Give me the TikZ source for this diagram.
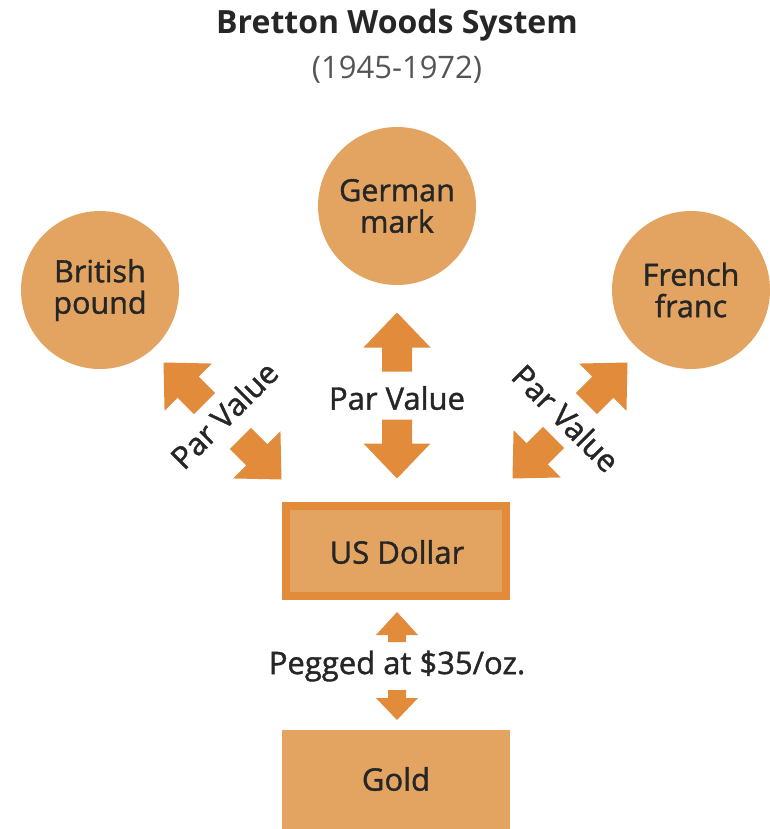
\documentclass[tikz,border=0pt]{standalone}
\usepackage{fontspec}
\setmainfont{Open Sans}
\newfontfamily\semib[FakeBold=1.3]{Open Sans}
\definecolor{fillc}{RGB}{227,164,97}
\definecolor{arrc}{RGB}{226,139,59}
\definecolor{txtc}{RGB}{38,38,38}
\definecolor{subc}{RGB}{85,85,85}
\newcommand{\blockarr}[7]{%
  \begin{scope}[shift={(#1,#2)},rotate=#3]
    \fill[arrc] (-#4/2,-#7/2) -- (#4/2-#5,-#7/2) -- (#4/2-#5,-#6/2) -- (#4/2,0)
      -- (#4/2-#5,#6/2) -- (#4/2-#5,#7/2) -- (-#4/2,#7/2) -- cycle;
  \end{scope}}
\tikzset{
  curr/.style={circle,fill=fillc,minimum size=158pt,inner sep=0pt,align=center,
    text=txtc,font=\semib\fontsize{30.5}{31.5}\selectfont},
  lbl/.style={text=txtc,font=\semib\fontsize{31}{32}\selectfont,inner sep=0pt},
}
\begin{document}
\begin{tikzpicture}[x=1pt,y=-1pt]
\useasboundingbox (0,0) rectangle (769,829);
\node[text=txtc,font=\fontsize{32}{36}\selectfont\bfseries] (title) at (397,25) {Bretton Woods System};
\node[text=subc,font=\fontsize{31}{36}\selectfont] (sub) at (397,70) {(1945-1972)};
\node[curr] (mark) at (397,206) {German\\mark};
\node[curr] (pound) at (100,290) {British\\pound};
\node[curr] (franc) at (691,290) {French\\franc};
\fill[arrc] (282,502) rectangle (510,600);
\fill[fillc] (290,510) rectangle (502,592);
\node[lbl] (usd) at (397,552) {US Dollar};
\fill[fillc] (282,730) rectangle (510,829);
\node[lbl] (gold) at (396,779) {Gold};
\node[lbl] (pvc) at (397,398) {Par Value};
\node[lbl,rotate=45] (pvl) at (224,415) {Par Value};
\node[lbl,rotate=-45] (pvr) at (566,418) {Par Value};
\node[lbl] (peg) at (397,666) {Pegged at \$35/oz.};
% centre arrows
\blockarr{397}{342}{90}{59}{35}{67}{30}
\blockarr{397}{449}{-90}{59}{35}{67}{30}
% left arrows
\blockarr{184}{383}{135}{58}{35}{67}{30}
\blockarr{261}{459}{-45}{58}{35}{67}{30}
% right arrows
\blockarr{607}{383}{45}{58}{35}{67}{30}
\blockarr{533}{458}{-135}{58}{35}{67}{30}
% small arrows
\blockarr{397}{627}{90}{30}{23}{42}{18}
\blockarr{397}{705}{-90}{30}{22}{42}{18}
\end{tikzpicture}
\end{document}
